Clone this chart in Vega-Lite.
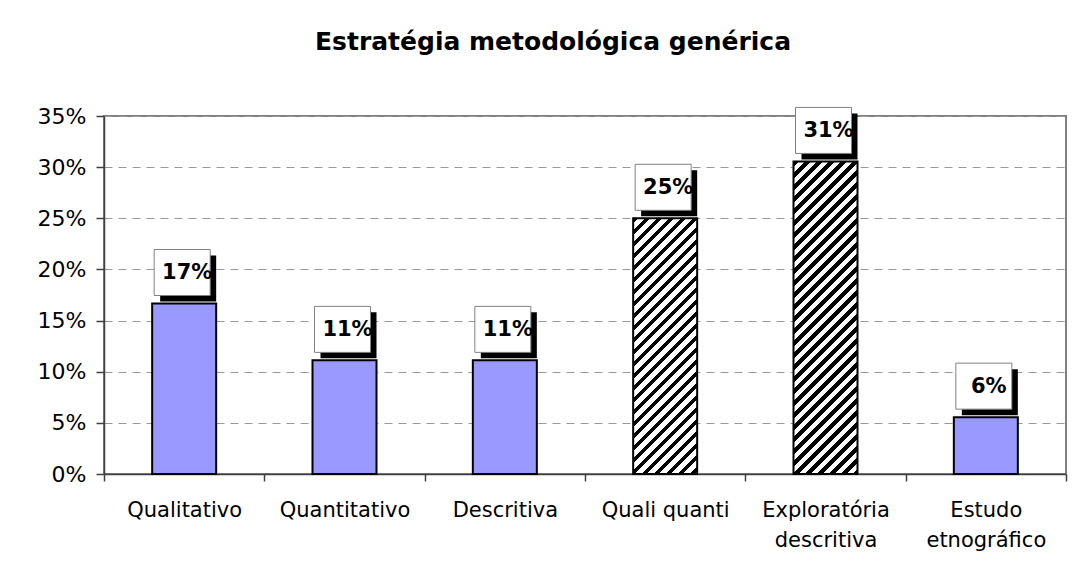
{
"$schema":"https://vega.github.io/schema/vega-lite/v6.json",
"width":962,"height":358,
"autosize":{"type":"none"},
"padding":{"left":104,"top":116,"right":8,"bottom":104},
"background":"white",
"title":{"text":"Estratégia metodológica genérica","font":"DejaVu Sans","fontSize":25,"fontWeight":"bold","color":"#000","anchor":"middle","frame":"group","dx":-32,"baseline":"alphabetic","offset":30},
"config":{"view":{"stroke":"#808080","strokeWidth":2},"font":"DejaVu Sans"},
"data":{"values":[
{"categoria":"Qualitativo","valor":0.1667},
{"categoria":"Quantitativo","valor":0.1111},
{"categoria":"Descritiva","valor":0.1111},
{"categoria":"Quali quanti","valor":0.25},
{"categoria":"Exploratória descritiva","valor":0.3056},
{"categoria":"Estudo etnográfico","valor":0.0556}
]},
"encoding":{
"x":{"field":"categoria","type":"nominal","sort":["Qualitativo","Quantitativo","Descritiva","Quali quanti","Exploratória descritiva","Estudo etnográfico"],"scale":{"paddingInner":0,"paddingOuter":0},
"axis":{"title":null,"labelAngle":0,"labelFontSize":21,"labelColor":"#000","labelLineHeight":30,"labelPadding":18,"tickSize":7,"tickColor":"#404040","tickWidth":1.5,"domainColor":"#404040","domainWidth":1.5,"tickBand":"extent","grid":false,
"labelExpr":"datum.value == 'Exploratória descritiva' ? ['Exploratória', 'descritiva'] : datum.value == 'Estudo etnográfico' ? ['Estudo', 'etnográfico'] : datum.label"}},
"y":{"field":"valor","type":"quantitative","scale":{"domain":[0,0.35],"nice":false},
"axis":{"title":null,"format":".0%","values":[0,0.05,0.1,0.15,0.2,0.25,0.3,0.35],"labelFontSize":22,"labelColor":"#000","labelPadding":10,"tickSize":8,"tickColor":"#404040","tickWidth":1.5,"domainColor":"#404040","domainWidth":1.5,"grid":true,"gridColor":"#999","gridDash":[8,6],"gridWidth":1}}
},
"layer":[
{"transform":[{"filter":"datum.categoria != 'Quali quanti' && datum.categoria != 'Exploratória descritiva'"}],
"mark":{"type":"bar","width":64,"fill":"#9999FF","stroke":"#000","strokeWidth":2}},
{"transform":[{"filter":"datum.categoria == 'Quali quanti'"}],
"mark":{"type":"bar","width":64,"stroke":"#000","strokeWidth":2,"fill":{"gradient":"linear","x1":0,"y1":0,"x2":0.3537,"y2":1.4131,"stops":[
{"offset":0,"color":"#000"},{"offset":0.01406,"color":"#000"},{"offset":0.01406,"color":"#fff"},{"offset":0.03125,"color":"#fff"},
{"offset":0.03125,"color":"#000"},{"offset":0.04531,"color":"#000"},{"offset":0.04531,"color":"#fff"},{"offset":0.0625,"color":"#fff"},
{"offset":0.0625,"color":"#000"},{"offset":0.07656,"color":"#000"},{"offset":0.07656,"color":"#fff"},{"offset":0.09375,"color":"#fff"},
{"offset":0.09375,"color":"#000"},{"offset":0.10781,"color":"#000"},{"offset":0.10781,"color":"#fff"},{"offset":0.125,"color":"#fff"},
{"offset":0.125,"color":"#000"},{"offset":0.13906,"color":"#000"},{"offset":0.13906,"color":"#fff"},{"offset":0.15625,"color":"#fff"},
{"offset":0.15625,"color":"#000"},{"offset":0.17031,"color":"#000"},{"offset":0.17031,"color":"#fff"},{"offset":0.1875,"color":"#fff"},
{"offset":0.1875,"color":"#000"},{"offset":0.20156,"color":"#000"},{"offset":0.20156,"color":"#fff"},{"offset":0.21875,"color":"#fff"},
{"offset":0.21875,"color":"#000"},{"offset":0.23281,"color":"#000"},{"offset":0.23281,"color":"#fff"},{"offset":0.25,"color":"#fff"},
{"offset":0.25,"color":"#000"},{"offset":0.26406,"color":"#000"},{"offset":0.26406,"color":"#fff"},{"offset":0.28125,"color":"#fff"},
{"offset":0.28125,"color":"#000"},{"offset":0.29531,"color":"#000"},{"offset":0.29531,"color":"#fff"},{"offset":0.3125,"color":"#fff"},
{"offset":0.3125,"color":"#000"},{"offset":0.32656,"color":"#000"},{"offset":0.32656,"color":"#fff"},{"offset":0.34375,"color":"#fff"},
{"offset":0.34375,"color":"#000"},{"offset":0.35781,"color":"#000"},{"offset":0.35781,"color":"#fff"},{"offset":0.375,"color":"#fff"},
{"offset":0.375,"color":"#000"},{"offset":0.38906,"color":"#000"},{"offset":0.38906,"color":"#fff"},{"offset":0.40625,"color":"#fff"},
{"offset":0.40625,"color":"#000"},{"offset":0.42031,"color":"#000"},{"offset":0.42031,"color":"#fff"},{"offset":0.4375,"color":"#fff"},
{"offset":0.4375,"color":"#000"},{"offset":0.45156,"color":"#000"},{"offset":0.45156,"color":"#fff"},{"offset":0.46875,"color":"#fff"},
{"offset":0.46875,"color":"#000"},{"offset":0.48281,"color":"#000"},{"offset":0.48281,"color":"#fff"},{"offset":0.5,"color":"#fff"},
{"offset":0.5,"color":"#000"},{"offset":0.51406,"color":"#000"},{"offset":0.51406,"color":"#fff"},{"offset":0.53125,"color":"#fff"},
{"offset":0.53125,"color":"#000"},{"offset":0.54531,"color":"#000"},{"offset":0.54531,"color":"#fff"},{"offset":0.5625,"color":"#fff"},
{"offset":0.5625,"color":"#000"},{"offset":0.57656,"color":"#000"},{"offset":0.57656,"color":"#fff"},{"offset":0.59375,"color":"#fff"},
{"offset":0.59375,"color":"#000"},{"offset":0.60781,"color":"#000"},{"offset":0.60781,"color":"#fff"},{"offset":0.625,"color":"#fff"},
{"offset":0.625,"color":"#000"},{"offset":0.63906,"color":"#000"},{"offset":0.63906,"color":"#fff"},{"offset":0.65625,"color":"#fff"},
{"offset":0.65625,"color":"#000"},{"offset":0.67031,"color":"#000"},{"offset":0.67031,"color":"#fff"},{"offset":0.6875,"color":"#fff"},
{"offset":0.6875,"color":"#000"},{"offset":0.70156,"color":"#000"},{"offset":0.70156,"color":"#fff"},{"offset":0.71875,"color":"#fff"},
{"offset":0.71875,"color":"#000"},{"offset":0.73281,"color":"#000"},{"offset":0.73281,"color":"#fff"},{"offset":0.75,"color":"#fff"},
{"offset":0.75,"color":"#000"},{"offset":0.76406,"color":"#000"},{"offset":0.76406,"color":"#fff"},{"offset":0.78125,"color":"#fff"},
{"offset":0.78125,"color":"#000"},{"offset":0.79531,"color":"#000"},{"offset":0.79531,"color":"#fff"},{"offset":0.8125,"color":"#fff"},
{"offset":0.8125,"color":"#000"},{"offset":0.82656,"color":"#000"},{"offset":0.82656,"color":"#fff"},{"offset":0.84375,"color":"#fff"},
{"offset":0.84375,"color":"#000"},{"offset":0.85781,"color":"#000"},{"offset":0.85781,"color":"#fff"},{"offset":0.875,"color":"#fff"},
{"offset":0.875,"color":"#000"},{"offset":0.88906,"color":"#000"},{"offset":0.88906,"color":"#fff"},{"offset":0.90625,"color":"#fff"},
{"offset":0.90625,"color":"#000"},{"offset":0.92031,"color":"#000"},{"offset":0.92031,"color":"#fff"},{"offset":0.9375,"color":"#fff"},
{"offset":0.9375,"color":"#000"},{"offset":0.95156,"color":"#000"},{"offset":0.95156,"color":"#fff"},{"offset":0.96875,"color":"#fff"},
{"offset":0.96875,"color":"#000"},{"offset":0.98281,"color":"#000"},{"offset":0.98281,"color":"#fff"},{"offset":1,"color":"#fff"}
]}}},
{"transform":[{"filter":"datum.categoria == 'Exploratória descritiva'"}],
"mark":{"type":"bar","width":64,"stroke":"#000","strokeWidth":2,"fill":{"gradient":"linear","x1":0,"y1":0,"x2":0.2415,"y2":1.1792,"stops":[
{"offset":0,"color":"#000"},{"offset":0.01406,"color":"#000"},{"offset":0.01406,"color":"#fff"},{"offset":0.03125,"color":"#fff"},
{"offset":0.03125,"color":"#000"},{"offset":0.04531,"color":"#000"},{"offset":0.04531,"color":"#fff"},{"offset":0.0625,"color":"#fff"},
{"offset":0.0625,"color":"#000"},{"offset":0.07656,"color":"#000"},{"offset":0.07656,"color":"#fff"},{"offset":0.09375,"color":"#fff"},
{"offset":0.09375,"color":"#000"},{"offset":0.10781,"color":"#000"},{"offset":0.10781,"color":"#fff"},{"offset":0.125,"color":"#fff"},
{"offset":0.125,"color":"#000"},{"offset":0.13906,"color":"#000"},{"offset":0.13906,"color":"#fff"},{"offset":0.15625,"color":"#fff"},
{"offset":0.15625,"color":"#000"},{"offset":0.17031,"color":"#000"},{"offset":0.17031,"color":"#fff"},{"offset":0.1875,"color":"#fff"},
{"offset":0.1875,"color":"#000"},{"offset":0.20156,"color":"#000"},{"offset":0.20156,"color":"#fff"},{"offset":0.21875,"color":"#fff"},
{"offset":0.21875,"color":"#000"},{"offset":0.23281,"color":"#000"},{"offset":0.23281,"color":"#fff"},{"offset":0.25,"color":"#fff"},
{"offset":0.25,"color":"#000"},{"offset":0.26406,"color":"#000"},{"offset":0.26406,"color":"#fff"},{"offset":0.28125,"color":"#fff"},
{"offset":0.28125,"color":"#000"},{"offset":0.29531,"color":"#000"},{"offset":0.29531,"color":"#fff"},{"offset":0.3125,"color":"#fff"},
{"offset":0.3125,"color":"#000"},{"offset":0.32656,"color":"#000"},{"offset":0.32656,"color":"#fff"},{"offset":0.34375,"color":"#fff"},
{"offset":0.34375,"color":"#000"},{"offset":0.35781,"color":"#000"},{"offset":0.35781,"color":"#fff"},{"offset":0.375,"color":"#fff"},
{"offset":0.375,"color":"#000"},{"offset":0.38906,"color":"#000"},{"offset":0.38906,"color":"#fff"},{"offset":0.40625,"color":"#fff"},
{"offset":0.40625,"color":"#000"},{"offset":0.42031,"color":"#000"},{"offset":0.42031,"color":"#fff"},{"offset":0.4375,"color":"#fff"},
{"offset":0.4375,"color":"#000"},{"offset":0.45156,"color":"#000"},{"offset":0.45156,"color":"#fff"},{"offset":0.46875,"color":"#fff"},
{"offset":0.46875,"color":"#000"},{"offset":0.48281,"color":"#000"},{"offset":0.48281,"color":"#fff"},{"offset":0.5,"color":"#fff"},
{"offset":0.5,"color":"#000"},{"offset":0.51406,"color":"#000"},{"offset":0.51406,"color":"#fff"},{"offset":0.53125,"color":"#fff"},
{"offset":0.53125,"color":"#000"},{"offset":0.54531,"color":"#000"},{"offset":0.54531,"color":"#fff"},{"offset":0.5625,"color":"#fff"},
{"offset":0.5625,"color":"#000"},{"offset":0.57656,"color":"#000"},{"offset":0.57656,"color":"#fff"},{"offset":0.59375,"color":"#fff"},
{"offset":0.59375,"color":"#000"},{"offset":0.60781,"color":"#000"},{"offset":0.60781,"color":"#fff"},{"offset":0.625,"color":"#fff"},
{"offset":0.625,"color":"#000"},{"offset":0.63906,"color":"#000"},{"offset":0.63906,"color":"#fff"},{"offset":0.65625,"color":"#fff"},
{"offset":0.65625,"color":"#000"},{"offset":0.67031,"color":"#000"},{"offset":0.67031,"color":"#fff"},{"offset":0.6875,"color":"#fff"},
{"offset":0.6875,"color":"#000"},{"offset":0.70156,"color":"#000"},{"offset":0.70156,"color":"#fff"},{"offset":0.71875,"color":"#fff"},
{"offset":0.71875,"color":"#000"},{"offset":0.73281,"color":"#000"},{"offset":0.73281,"color":"#fff"},{"offset":0.75,"color":"#fff"},
{"offset":0.75,"color":"#000"},{"offset":0.76406,"color":"#000"},{"offset":0.76406,"color":"#fff"},{"offset":0.78125,"color":"#fff"},
{"offset":0.78125,"color":"#000"},{"offset":0.79531,"color":"#000"},{"offset":0.79531,"color":"#fff"},{"offset":0.8125,"color":"#fff"},
{"offset":0.8125,"color":"#000"},{"offset":0.82656,"color":"#000"},{"offset":0.82656,"color":"#fff"},{"offset":0.84375,"color":"#fff"},
{"offset":0.84375,"color":"#000"},{"offset":0.85781,"color":"#000"},{"offset":0.85781,"color":"#fff"},{"offset":0.875,"color":"#fff"},
{"offset":0.875,"color":"#000"},{"offset":0.88906,"color":"#000"},{"offset":0.88906,"color":"#fff"},{"offset":0.90625,"color":"#fff"},
{"offset":0.90625,"color":"#000"},{"offset":0.92031,"color":"#000"},{"offset":0.92031,"color":"#fff"},{"offset":0.9375,"color":"#fff"},
{"offset":0.9375,"color":"#000"},{"offset":0.95156,"color":"#000"},{"offset":0.95156,"color":"#fff"},{"offset":0.96875,"color":"#fff"},
{"offset":0.96875,"color":"#000"},{"offset":0.98281,"color":"#000"},{"offset":0.98281,"color":"#fff"},{"offset":1,"color":"#fff"}
]}}},
{"mark":{"type":"bar","width":56,"xOffset":4,"yOffset":-48,"y2Offset":-2,"fill":"#000","stroke":null},
"encoding":{"y2":{"field":"valor"}}},
{"mark":{"type":"bar","width":56,"xOffset":-2,"yOffset":-54,"y2Offset":-8,"fill":"#fff","stroke":"#808080","strokeWidth":1},
"encoding":{"y2":{"field":"valor"}}},
{"mark":{"type":"text","dx":3,"dy":-24,"baseline":"alphabetic","align":"center","font":"DejaVu Sans","fontSize":21,"fontWeight":"bold","color":"#000"},
"encoding":{"text":{"field":"valor","type":"quantitative","format":".0%"}}}
]
}
